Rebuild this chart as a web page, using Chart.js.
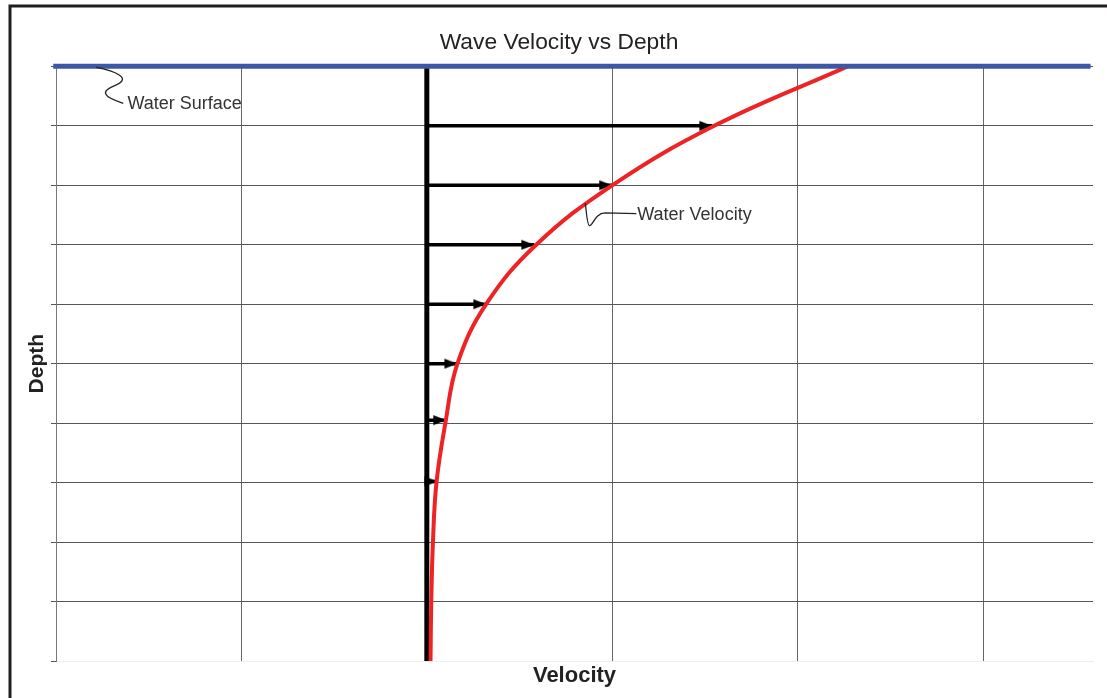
<!DOCTYPE html>
<html>
<head>
<meta charset="utf-8">
<script src="https://cdn.jsdelivr.net/npm/chart.js@4/dist/chart.umd.min.js"></script>
<style>
  html, body { margin: 0; padding: 0; background: #fff; overflow: hidden; }
  #wrap { position: relative; width: 1107px; height: 698px; }
</style>
</head>
<body>
<div id="wrap"><canvas id="myChart" width="1107" height="698"></canvas></div>
<script>
// Dados do gráfico
var depths = [0, 1, 2, 3, 4, 5, 6, 7, 8, 9, 10];
var waterVelocity = [2.27, 1.55, 1.0, 0.59, 0.32, 0.165, 0.10, 0.052, 0.033, 0.024, 0.02];

var arrowDepths = [1, 2, 3, 4, 5, 5.95, 6.98];
var arrowVelocity = [1.54, 1.0, 0.58, 0.321, 0.165, 0.105, 0.057];

var xTicks = [-2, -1, 0, 1, 2, 3];
var xMin = -2, xMax = 3.593;
var yTicks = [0, 1, 2, 3, 4, 5, 6, 7, 8, 9, 10];

// Posições das anotações (em unidades de dados)
var surfaceAnchor = { x: -1.783, y: 0.0 };
var surfaceLabel = { x: -1.615, y: 0.64, text: 'Water Surface' };
var velocityAnchor = { x: 0.855, y: 2.30 };
var velocityLabel = { x: 1.135, y: 2.50, text: 'Water Velocity' };

var fontFamily = '"Liberation Sans", Arial, Helvetica, sans-serif';

// Ponta de seta (a ponta fica no centro da imagem)
function criarPontaDeSeta() {
    var c = document.createElement('canvas');
    c.width = 28;
    c.height = 12;
    var g = c.getContext('2d');
    g.fillStyle = '#000';
    g.beginPath();
    g.moveTo(1, 1);
    g.lineTo(14, 6);
    g.lineTo(1, 11);
    g.closePath();
    g.fill();
    return c;
}
var arrowHead = criarPontaDeSeta();

// Datasets
var datasets = [];

datasets.push({
    label: 'Surface',
    data: [{ x: -2.015, y: 0 }, { x: 3.58, y: 0 }],
    borderColor: '#3c57a6',
    borderWidth: 5,
    pointRadius: 0,
    clip: false,
    order: 0
});

datasets.push({
    label: 'Water Velocity',
    data: depths.map(function (d, i) { return { x: waterVelocity[i], y: d }; }),
    borderColor: '#ee2326',
    borderWidth: 4,
    pointRadius: 0,
    tension: 0.4,
    order: 1
});

arrowDepths.forEach(function (d, i) {
    datasets.push({
        label: 'arrow' + i,
        data: [{ x: 0, y: d }, { x: arrowVelocity[i], y: d }],
        borderColor: '#000',
        borderWidth: 3.5,
        pointRadius: [0, 5],
        pointStyle: arrowHead,
        order: 2
    });
});

datasets.push({
    label: 'Axis',
    data: [{ x: 0, y: 0 }, { x: 0, y: 10 }],
    borderColor: '#000',
    borderWidth: 5,
    pointRadius: 0,
    order: 3
});

// Plugin: moldura e fundo
var framePlugin = {
    id: 'frame',
    beforeDraw: function (chart) {
        var ctx = chart.ctx;
        ctx.save();
        ctx.fillStyle = '#fff';
        ctx.fillRect(0, 0, chart.width, chart.height);
        ctx.strokeStyle = '#231f20';
        ctx.lineWidth = 3;
        ctx.beginPath();
        ctx.moveTo(10, chart.height);
        ctx.lineTo(10, 6);
        ctx.lineTo(chart.width, 6);
        ctx.stroke();
        ctx.restore();
    }
};

// Plugin: chamadas de texto
var calloutPlugin = {
    id: 'callouts',
    afterDatasetsDraw: function (chart) {
        var ctx = chart.ctx;
        var x = chart.scales.x, y = chart.scales.y;
        ctx.save();
        ctx.strokeStyle = '#222';
        ctx.lineWidth = 1.3;

        var ax = x.getPixelForValue(surfaceAnchor.x);
        var ay = y.getPixelForValue(surfaceAnchor.y) + 1;
        ctx.beginPath();
        ctx.moveTo(ax, ay);
        ctx.bezierCurveTo(ax + 15, ay + 3, ax + 38, ay + 10, ax + 19, ay + 18);
        ctx.bezierCurveTo(ax + 4, ay + 24, ax + 6, ay + 29, ax + 27, ay + 36);
        ctx.stroke();

        var bx = x.getPixelForValue(velocityAnchor.x);
        var by = y.getPixelForValue(velocityAnchor.y);
        ctx.beginPath();
        ctx.moveTo(bx, by);
        ctx.bezierCurveTo(bx + 1, by + 10, bx + 2, by + 22, bx + 4, by + 22.5);
        ctx.bezierCurveTo(bx + 8, by + 23, bx + 9, by + 10, bx + 20, by + 9.8);
        ctx.lineTo(bx + 51, by + 10.5);
        ctx.stroke();

        ctx.fillStyle = '#333';
        ctx.font = '18px ' + fontFamily;
        ctx.textBaseline = 'middle';
        ctx.textAlign = 'left';
        ctx.fillText(surfaceLabel.text, x.getPixelForValue(surfaceLabel.x), y.getPixelForValue(surfaceLabel.y));
        ctx.fillText(velocityLabel.text, x.getPixelForValue(velocityLabel.x), y.getPixelForValue(velocityLabel.y));
        ctx.restore();
    }
};

// Criação do gráfico
var ctx = document.getElementById('myChart').getContext('2d');
var myChart = new Chart(ctx, {
    type: 'line',
    data: { datasets: datasets },
    options: {
        responsive: false,
        animation: false,
        events: [],
        layout: { padding: { left: 25, right: 14, top: 0, bottom: 0 } },
        plugins: {
            legend: { display: false },
            tooltip: { enabled: false },
            title: {
                display: true,
                text: 'Wave Velocity vs Depth',
                color: '#222',
                font: { family: fontFamily, size: 22.8, weight: 'normal' },
                padding: { top: 29, bottom: 10 }
            }
        },
        scales: {
            x: {
                type: 'linear',
                min: xMin,
                max: xMax,
                afterBuildTicks: function (scale) {
                    scale.ticks = xTicks.map(function (v) { return { value: v }; });
                },
                afterFit: function (scale) { scale.height = 37; },
                ticks: { display: false },
                grid: { color: '#666', lineWidth: 1, drawTicks: false },
                border: { display: true, color: '#eeeeee', width: 1 },
                title: {
                    display: true,
                    text: 'Velocity',
                    color: '#222',
                    font: { family: fontFamily, size: 22, weight: 'bold' },
                    padding: { top: 0, bottom: 9 }
                }
            },
            y: {
                type: 'linear',
                reverse: true,
                min: 0,
                max: 10,
                afterBuildTicks: function (scale) {
                    scale.ticks = yTicks.map(function (v) { return { value: v }; });
                },
                afterFit: function (scale) { scale.width = 31; },
                ticks: { display: false },
                grid: {
                    color: function (c) { return c.tick && c.tick.value === 10 ? '#eeeeee' : '#555'; },
                    tickColor: '#555',
                    lineWidth: 1,
                    drawTicks: true,
                    tickLength: 5
                },
                border: { display: true, color: '#777', width: 1 },
                title: {
                    display: true,
                    text: 'Depth',
                    color: '#222',
                    font: { family: fontFamily, size: 21, weight: 'bold' },
                    padding: { top: 0, bottom: 0 }
                }
            }
        }
    },
    plugins: [framePlugin, calloutPlugin]
});
</script>
</body>
</html>
